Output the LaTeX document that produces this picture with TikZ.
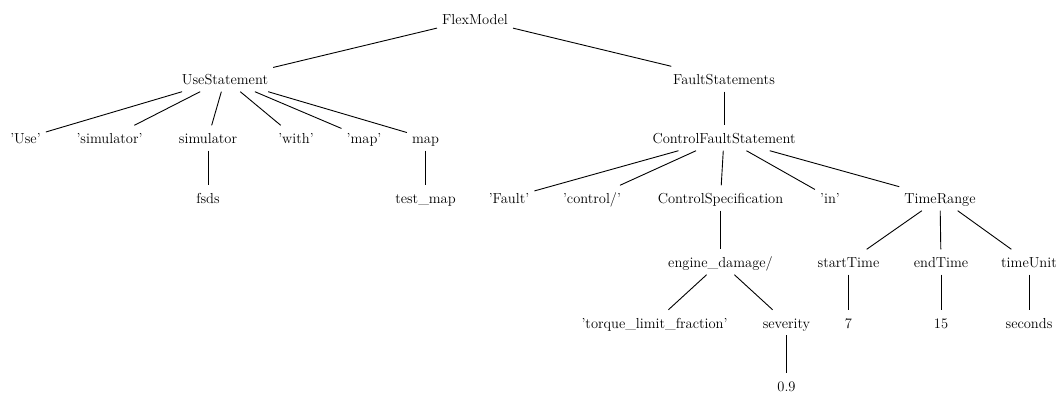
\documentclass[tikz,border=0pt]{standalone}
\usepackage{fontspec}
\begin{document}
\begin{tikzpicture}[x=1pt,y=-1pt,
  t/.style={anchor=base, inner xsep=5pt, inner ysep=5pt, text height=13pt, text depth=2pt,
            font=\fontsize{14.5}{17}\selectfont},
  link/.style={line width=0.9pt}]
\useasboundingbox (0,0) rectangle (1064,394);

% level 0
\node[t] (flex) at (475,24.5) {FlexModel};
% level 1
\node[t] (use) at (225,84.5) {UseStatement};
\node[t] (faults) at (724,84.5) {FaultStatements};
% level 2
\node[t] (quse) at (25.5,143.5) {'Use'};
\node[t] (qsim) at (109.5,143.5) {'simulator'};
\node[t] (sim) at (208,143.5) {simulator};
\node[t] (qwith) at (296,143.5) {'with'};
\node[t] (qmap) at (364,143.5) {'map'};
\node[t] (map) at (425.5,143.5) {map};
\node[t] (cfs) at (724,143.5) {ControlFaultStatement};
% level 3
\node[t] (fsds) at (208,203.5) {fsds};
\node[t] (tmap) at (425.5,203.5) {test\_map};
\node[t] (qfault) at (509,203.5) {'Fault'};
\node[t] (qctrl) at (592,203.5) {'control/'};
\node[t] (cspec) at (720.5,203.5) {ControlSpecification};
\node[t] (qin) at (830,203.5) {'in'};
\node[t] (trange) at (940,203.5) {TimeRange};
% level 4
\node[t] (engine) at (720.5,267.5) {engine\_damage/};
\node[t] (start) at (848.5,267.5) {startTime};
\node[t] (end) at (941,267.5) {endTime};
\node[t] (unit) at (1029,267.5) {timeUnit};
% level 5
\node[t] (torque) at (654.5,328) {'torque\_limit\_fraction'};
\node[t] (sev) at (786.5,328) {severity};
\node[t] (seven) at (848.5,328) {7};
\node[t] (fifteen) at (941,328) {15};
\node[t] (secs) at (1029,328) {seconds};
% level 6
\node[t] (sevval) at (786.5,391.5) {0.9};

% tree edges
\draw[link] (flex) -- (use);
\draw[link] (flex) -- (faults);
\foreach \c in {quse,qsim,sim,qwith,qmap,map}
  \draw[link] (use) -- (\c);
\draw[link] (sim) -- (fsds);
\draw[link] (map) -- (tmap);
\draw[link] (faults) -- (cfs);
\foreach \c in {qfault,qctrl,cspec,qin,trange}
  \draw[link] (cfs) -- (\c);
\draw[link] (cspec) -- (engine);
\draw[link] (engine) -- (torque);
\draw[link] (engine) -- (sev);
\draw[link] (sev) -- (sevval);
\foreach \c in {start,end,unit}
  \draw[link] (trange) -- (\c);
\draw[link] (start) -- (seven);
\draw[link] (end) -- (fifteen);
\draw[link] (unit) -- (secs);
\end{tikzpicture}
\end{document}
